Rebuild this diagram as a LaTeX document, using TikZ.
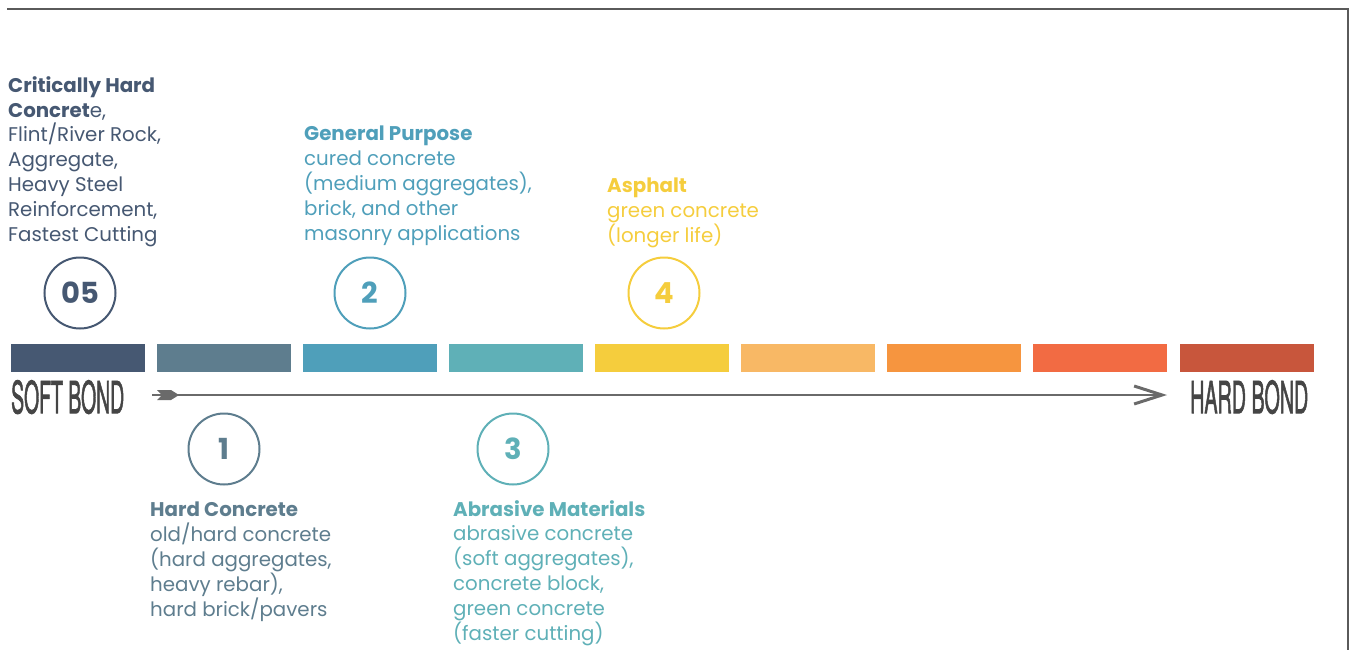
\documentclass[tikz,border=0pt]{standalone}
\usepackage{fontspec}
\setmainfont{Poppins}
\newfontfamily\condfont[FakeBold=2.2]{TeX Gyre Heros}
\usetikzlibrary{arrows.meta}
\definecolor{cA}{HTML}{465872}
\definecolor{cB}{HTML}{5E7D8E}
\definecolor{cC}{HTML}{4F9FBA}
\definecolor{cD}{HTML}{5FB0B7}
\definecolor{cE}{HTML}{F5CD3D}
\definecolor{cF}{HTML}{F8B865}
\definecolor{cG}{HTML}{F6953F}
\definecolor{cH}{HTML}{F26B43}
\definecolor{cI}{HTML}{C8563C}
\definecolor{frameg}{HTML}{5A5A5A}
\definecolor{arrowg}{HTML}{6A6A6A}
\definecolor{bondg}{HTML}{454545}
\tikzset{
  bar/.style={fill=#1, draw=none, minimum width=134pt, minimum height=28pt, inner sep=0pt, anchor=north west},
  numcirc/.style={circle, draw=#1, text=#1, line width=2pt, minimum size=71pt, inner sep=0pt,
    font=\fontsize{29}{29}\selectfont\bfseries},
  desc/.style={anchor=base west, inner sep=0pt, align=left, text=#1,
    font=\fontsize{19.8}{24.8}\selectfont},
  bond/.style={inner sep=0pt, anchor=north west, text=bondg},
}
\begin{document}
\begin{tikzpicture}[x=1pt,y=-1pt]
\useasboundingbox (0,0) rectangle (1351,650);
% frame
\draw[frameg, line width=2pt] (7,9.5) -- (1348,9.5) -- (1348,650);
% bars
\node[bar=cA] (b1) at (11,344) {};
\node[bar=cB] (b2) at (157,344) {};
\node[bar=cC] (b3) at (303,344) {};
\node[bar=cD] (b4) at (449,344) {};
\node[bar=cE] (b5) at (595,344) {};
\node[bar=cF] (b6) at (741,344) {};
\node[bar=cG] (b7) at (887,344) {};
\node[bar=cH] (b8) at (1033,344) {};
\node[bar=cI] (b9) at (1180,344) {};
% bond labels
\node[bond] (soft) at (11,380) {\resizebox{113pt}{33pt}{\condfont SOFT BOND}};
\node[bond] (hard) at (1190,380) {\resizebox{118pt}{33pt}{\condfont HARD BOND}};
% arrow
\coordinate (as) at (152,395);
\coordinate (ae) at (1167,395);
\draw[arrowg, line width=2pt, -{Straight Barb[length=28pt,width=18pt,line width=3pt]}] (as) -- (ae);
\fill[arrowg] (157,390) -- (171,390) -- (179,395) -- (171,400) -- (157,400) -- (162,395) -- cycle;
% circles
\node[numcirc=cA] (n5) at (80,293) {05};
\node[numcirc=cC] (n2) at (370,293) {2};
\node[numcirc=cE] (n4) at (664,293) {4};
\node[numcirc=cB] (n1) at (224,449) {1};
\node[numcirc=cD] (n3) at (513,449) {3};
% texts (base anchor = last line baseline)
\node[desc=cA] (t5) at (8,241) {\textbf{Critically Hard}\\\textbf{Concret}e,\\Flint/River Rock,\\Aggregate,\\Heavy Steel\\Reinforcement,\\Fastest Cutting};
\node[desc=cC] (t2) at (304,240) {\textbf{General Purpose}\\cured concrete\\(medium aggregates),\\brick, and other\\masonry applications};
\node[desc=cE] (t4) at (607,242) {\textbf{Asphalt}\\green concrete\\(longer life)};
\node[desc=cB] (t1) at (150,616) {\textbf{Hard Concrete}\\old/hard concrete\\(hard aggregates,\\heavy rebar),\\hard brick/pavers};
\node[desc=cD] (t3) at (453,640) {\textbf{Abrasive Materials}\\abrasive concrete\\(soft aggregates),\\concrete block,\\green concrete\\(faster cutting)};
\end{tikzpicture}
\end{document}
